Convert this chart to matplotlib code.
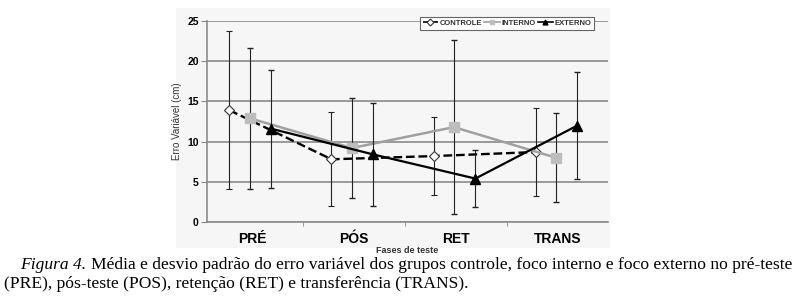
import numpy as np
import matplotlib.pyplot as plt
from matplotlib.patches import Rectangle
from matplotlib.lines import Line2D

fases = ['PRÉ', 'PÓS', 'RET', 'TRANS']
controle = [13.9, 7.8, 8.2, 8.7]
controle_dp = [9.85, 5.85, 4.9, 5.5]
interno = [12.9, 9.2, 11.8, 8.0]
interno_dp = [8.75, 6.25, 10.8, 5.55]
externo = [11.6, 8.4, 5.4, 12.0]
externo_dp = [7.35, 6.4, 3.5, 6.65]

fig = plt.figure(figsize=(8.03, 2.99), dpi=100)
# light gray background of the chart image
fig.patches.append(Rectangle((176 / 803, 1 - 248 / 299), 434 / 803, 240 / 299,
                             transform=fig.transFigure, facecolor='#f6f6f6',
                             edgecolor='none', zorder=-5))
ax = fig.add_axes([207 / 803, 1 - 222 / 299, 401 / 803, 201 / 299])
ax.set_facecolor('none')

x = np.arange(len(fases))
bold = {'family': 'Liberation Sans', 'weight': 'bold'}

styles = {
    'CONTROLE': dict(color='black', ls='--', lw=1.7, marker='D', mfc='white',
                     mec='#333333', mew=0.8),
    'INTERNO': dict(color='#a0a0a0', ls='-', lw=1.8, marker='s', mfc='#bdbdbd',
                    mec='#bdbdbd'),
    'EXTERNO': dict(color='black', ls='-', lw=1.6, marker='^', mfc='black',
                    mec='black'),
}

ax.errorbar(x - 0.22, controle, yerr=controle_dp, ms=5, **styles['CONTROLE'],
            ecolor='#222222', elinewidth=0.8, capsize=2.5, zorder=3)
ax.errorbar(x - 0.02, interno, yerr=interno_dp, ms=7, **styles['INTERNO'],
            ecolor='#222222', elinewidth=0.8, capsize=2.5, zorder=3)
ax.errorbar(x + 0.19, externo, yerr=externo_dp, ms=7, **styles['EXTERNO'],
            ecolor='#222222', elinewidth=0.8, capsize=2.5, zorder=4)

ax.set_xlim(-0.44, 3.49)
ax.set_ylim(0, 25)
ax.set_yticks([0, 5, 10, 15, 20, 25])
ax.set_xticks(x)
ax.set_xticklabels(fases, fontdict=dict(bold, size=10))
ax.set_xticks([0.5, 1.5, 2.5], minor=True)
for lbl in ax.get_yticklabels():
    lbl.set_fontproperties(dict(bold, size=7.5))
ax.tick_params(axis='x', which='major', length=0, pad=7)
ax.tick_params(axis='x', which='minor', length=3, color='#888888')
ax.tick_params(axis='y', length=4, color='#888888', pad=2)
ax.yaxis.grid(True, color='#8a8a8a', lw=1.2)
ax.set_axisbelow(True)
for s in ['top', 'right']:
    ax.spines[s].set_visible(False)
for s in ['left', 'bottom']:
    ax.spines[s].set_color('#8a8a8a')
    ax.spines[s].set_linewidth(1.2)

ax.set_ylabel('Erro Variável (cm)', fontsize=7, family='Liberation Sans',
              color='#333333', labelpad=4)
ax.set_xlabel('Fases de teste', fontdict=dict(bold, size=6.5), color='#333333', labelpad=0)

handles = [Line2D([], [], ms=3.5, **styles[k]) for k in styles]
for h in handles:
    h.set_linewidth(1.2)
leg = ax.legend(handles, list(styles), loc='upper right', ncol=3,
                bbox_to_anchor=(0.965, 1.02),
                prop=dict(bold, size=5.5), frameon=True, fancybox=False,
                edgecolor='#666666', framealpha=1, handlelength=2.0,
                handletextpad=0.2, columnspacing=0.3, borderpad=0.35,
                borderaxespad=0)
leg.get_frame().set_linewidth(0.8)
for t in leg.get_texts():
    t.set_color('#333333')

fig.text(20 / 803, 1 - 265 / 299, 'Figura 4.', family='Liberation Serif',
         style='italic', fontsize=12.6, va='center')
fig.text(91 / 803, 1 - 265 / 299,
         'Média e desvio padrão do erro variável dos grupos controle, foco interno e foco externo no pré-teste',
         family='Liberation Serif', fontsize=12.6, va='center')
fig.text(4 / 803, 1 - 284 / 299,
         '(PRE), pós-teste (POS), retenção (RET) e transferência (TRANS).',
         family='Liberation Serif', fontsize=12.6, va='center')

fig.savefig('out.png', dpi=100)
